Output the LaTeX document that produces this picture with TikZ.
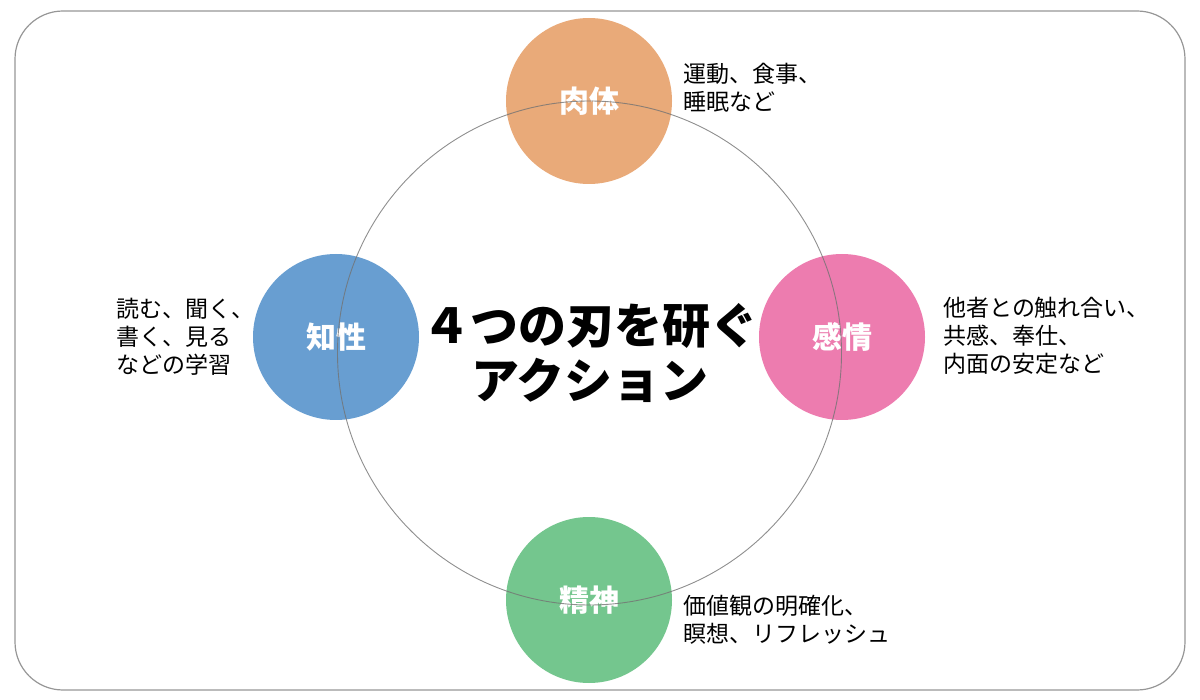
\documentclass[tikz,border=0pt]{standalone}
\usepackage{fontspec}
\newfontfamily\jp{Noto Sans CJK JP}
\newfontfamily\jpblack{Noto Sans CJK JP Black}
\newfontfamily\jpbold{Noto Sans CJK JP Bold}
\definecolor{cOrange}{RGB}{232,167,117}
\definecolor{cBlue}{RGB}{99,155,207}
\definecolor{cPink}{RGB}{236,120,172}
\definecolor{cGreen}{RGB}{112,196,138}
\definecolor{cBorder}{RGB}{150,150,150}
\tikzset{
  frame/.style={draw=cBorder, line width=1.2pt, rounded corners=48pt},
  ring/.style={draw=black!55, line width=0.9pt, draw opacity=0.8},
  dot/.style={circle, minimum size=166pt, inner sep=0pt, fill=#1, fill opacity=0.97, text opacity=1, text=white, font=\jpblack\fontsize{30}{32}\selectfont},
  note/.style={anchor=west, inner sep=0pt, align=left, font=\jp\fontsize{23}{28}\selectfont},
  title/.style={align=center, inner sep=0pt, font=\jpblack\fontsize{48}{55}\selectfont}
}
\begin{document}
\begin{tikzpicture}[x=1pt,y=-1pt]
\useasboundingbox (0,0) rectangle (1200,700);
\draw[frame] (15,11) rectangle (1185,690);
\node[dot=cOrange] (body) at (589,101) {肉体};
\node[dot=cBlue] (mind) at (336,337) {知性};
\node[dot=cPink] (heart) at (842,337) {感情};
\node[dot=cGreen] (spirit) at (589,600) {精神};
\node[circle, minimum size=504pt, inner sep=0pt, ring] (ring) at (589.5,353) {};
\node[title] (ttl) at (590,353) {４つの刃を研ぐ\\アクション};
\node[note] (nb) at (683,88) {運動、食事、\\睡眠など};
\node[note] (nm) at (116,337) {読む、聞く、\\書く、見る\\などの学習};
\node[note] (nh) at (943,336) {他者との触れ合い、\\共感、奉仕、\\内面の安定など};
\node[note] (ns) at (683,620) {価値観の明確化、\\瞑想、リフレッシュ};
\end{tikzpicture}
\end{document}
